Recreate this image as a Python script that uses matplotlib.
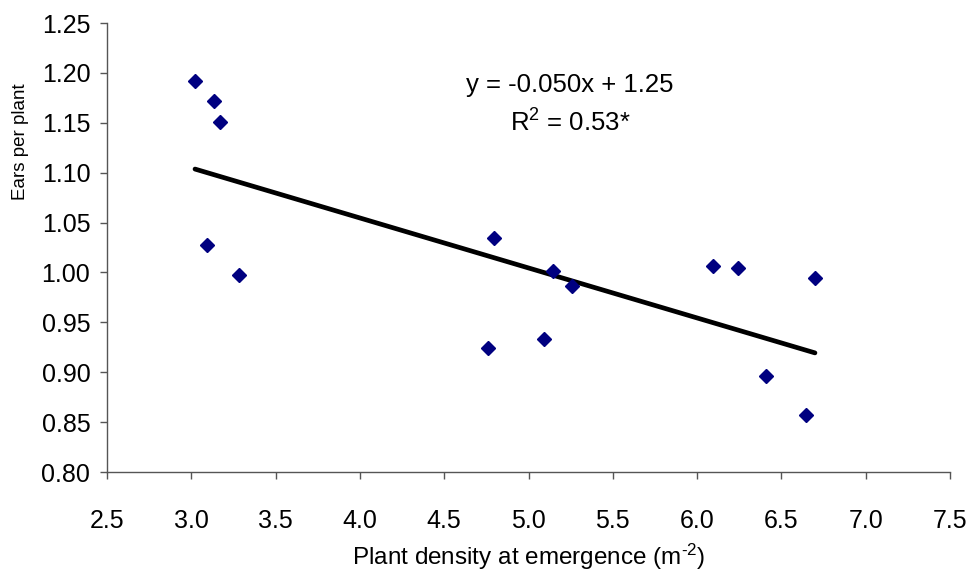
import numpy as np
import matplotlib
matplotlib.use("Agg")
import matplotlib.pyplot as plt
from matplotlib.ticker import MultipleLocator, FormatStrFormatter

# Data
density = [3.022, 3.133, 3.170, 3.095, 3.281, 4.795, 4.760, 5.092, 5.145, 5.258,
           6.092, 6.241, 6.699, 6.407, 6.646]
ears = [1.192, 1.172, 1.151, 1.028, 0.997, 1.035, 0.924, 0.933, 1.001, 0.986,
        1.006, 1.004, 0.994, 0.896, 0.857]
eq_text = "y = -0.050x + 1.25"
r2_text = "R$^2$ = 0.53*"
xlabel = "Plant density at emergence (m$^{\\text{-}2}$)"
ylabel = "Ears per plant"

plt.rcParams['font.family'] = ['Liberation Sans', 'DejaVu Sans']
plt.rcParams['mathtext.fontset'] = 'custom'
plt.rcParams['mathtext.rm'] = 'Liberation Sans'
plt.rcParams['mathtext.it'] = 'Liberation Sans'

fig = plt.figure(figsize=(9.72, 5.76), dpi=100)
ax = fig.add_axes([107/972, 1 - 472/576, (950-107)/972, (472-23)/576])

x = np.array(density)
y = np.array(ears)
slope, intercept = np.polyfit(x, y, 1)
xx = np.array([x.min(), x.max()])
ax.plot(xx, slope*xx + intercept, color='black', lw=3.4, solid_capstyle='round', zorder=2)
ax.plot(x, y, linestyle='none', marker='D', markersize=7.6, color='#000080',
        markeredgecolor='#000080', zorder=3)

ax.set_xlim(2.5, 7.5)
ax.set_ylim(0.80, 1.25)
ax.xaxis.set_major_locator(MultipleLocator(0.5))
ax.yaxis.set_major_locator(MultipleLocator(0.05))
ax.xaxis.set_major_formatter(FormatStrFormatter('%.1f'))
ax.yaxis.set_major_formatter(FormatStrFormatter('%.2f'))

for s in ['top', 'right']:
    ax.spines[s].set_visible(False)
for s in ['left', 'bottom']:
    ax.spines[s].set_color('#555555')
    ax.spines[s].set_linewidth(1.0)

ax.tick_params(axis='both', direction='out', length=5, width=1.0, color='#555555')
ax.tick_params(axis='y', labelsize=18, pad=7)
ax.tick_params(axis='x', labelsize=18, pad=22)

ax.set_xlabel(xlabel, fontsize=17.5)
ax.set_ylabel(ylabel, fontsize=13.5)
ax.xaxis.label.set_verticalalignment('center')
ax.yaxis.label.set_verticalalignment('center')
ax.xaxis.set_label_coords((529-107)/(950-107), -(557-472)/(472-23))
ax.yaxis.set_label_coords(-(107-20)/(950-107), (472-142)/(472-23))

ax.text(570/972, 1 - 85/576, eq_text, transform=fig.transFigure, ha='center', va='center', fontsize=18.5)
ax.text(570/972, 1 - 123/576, r2_text, transform=fig.transFigure, ha='center', va='center', fontsize=18.5)

fig.savefig("out.png", dpi=100)
